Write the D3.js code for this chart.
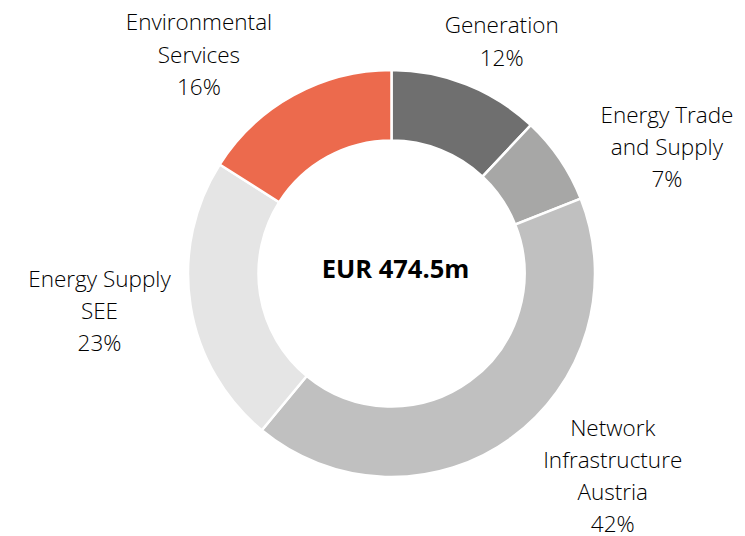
<html>

<head>
  <script src="https://d3js.org/d3.v7.min.js"></script>
  <style>
    body {
      margin: 0;
      background: #fff;
    }

    .lbl {
      font-family: "Open Sans", "Noto Sans", sans-serif;
      font-weight: 300;
      font-size: 22.5px;
      fill: #000;
    }

    .total {
      font-family: "Open Sans", "Noto Sans", sans-serif;
      font-weight: bold;
      font-size: 25.5px;
      fill: #000;
    }
  </style>
</head>

<body>
  <svg id="donut" width="745" height="536"></svg>
  <script>
    // segments, clockwise from 12 o'clock
    const segments = ["Generation", "Energy Trade and Supply", "Network Infrastructure Austria", "Energy Supply SEE", "Environmental Services"];
    const shares = [12, 7, 42, 23, 16];
    const labelLines = [
      ["Generation"],
      ["Energy Trade", "and Supply"],
      ["Network", "Infrastructure", "Austria"],
      ["Energy Supply", "SEE"],
      ["Environmental", "Services"]
    ];
    const totalLabel = "EUR 474.5m";

    const colors = ["#6f6f6f", "#a7a7a6", "#c0c0c0", "#e5e5e5", "#ec6a4d"];

    let svg = d3.select("svg#donut");
    let cx = 391.5, cy = 273.5;
    let outerR = 203.5, innerR = 133;

    let g = svg.append("g")
      .attr("transform", `translate(${cx}, ${cy})`);

    let data = segments.map((s, i) => ({ name: s, value: shares[i], lines: labelLines[i] }));

    let pie = d3.pie().sort(null).value(d => d.value);
    let arc = d3.arc().innerRadius(innerR).outerRadius(outerR);
    let arcs = pie(data);

    let colorScale = d3.scaleOrdinal(segments, colors);

    g.selectAll("path").data(arcs)
      .join("path")
      .attr("d", arc)
      .attr("fill", d => colorScale(d.data.name))
      .attr("stroke", "#fff")
      .attr("stroke-width", 2.5);

    // label block centre (middle baseline): distance from centre and bearing (deg, clockwise from north)
    let labelLayout = [
      { r: 249.6, a: 26.2 },
      { r: 299.9, a: 66.7 },
      { r: 305.5, a: 133.6 },
      { r: 295.5, a: 261.2 },
      { r: 285.6, a: 317.6 }
    ];
    let lineH = 32.2;

    arcs.forEach((d, i) => {
      let L = labelLayout[i];
      let rad = L.a * Math.PI / 180;
      let x = L.r * Math.sin(rad);
      let y = -L.r * Math.cos(rad);
      let lines = d.data.lines.concat([d.data.value + "%"]);
      let y0 = y - (lines.length - 1) * lineH / 2;
      let t = g.append("text")
        .attr("class", "lbl")
        .attr("text-anchor", "middle");
      lines.forEach((ln, j) => {
        t.append("tspan")
          .attr("x", x)
          .attr("y", y0 + j * lineH)
          .text(ln);
      });
    });

    g.append("text")
      .attr("class", "total")
      .attr("text-anchor", "middle")
      .attr("x", 4)
      .attr("y", 4.5)
      .text(totalLabel);
  </script>
</body>

</html>
